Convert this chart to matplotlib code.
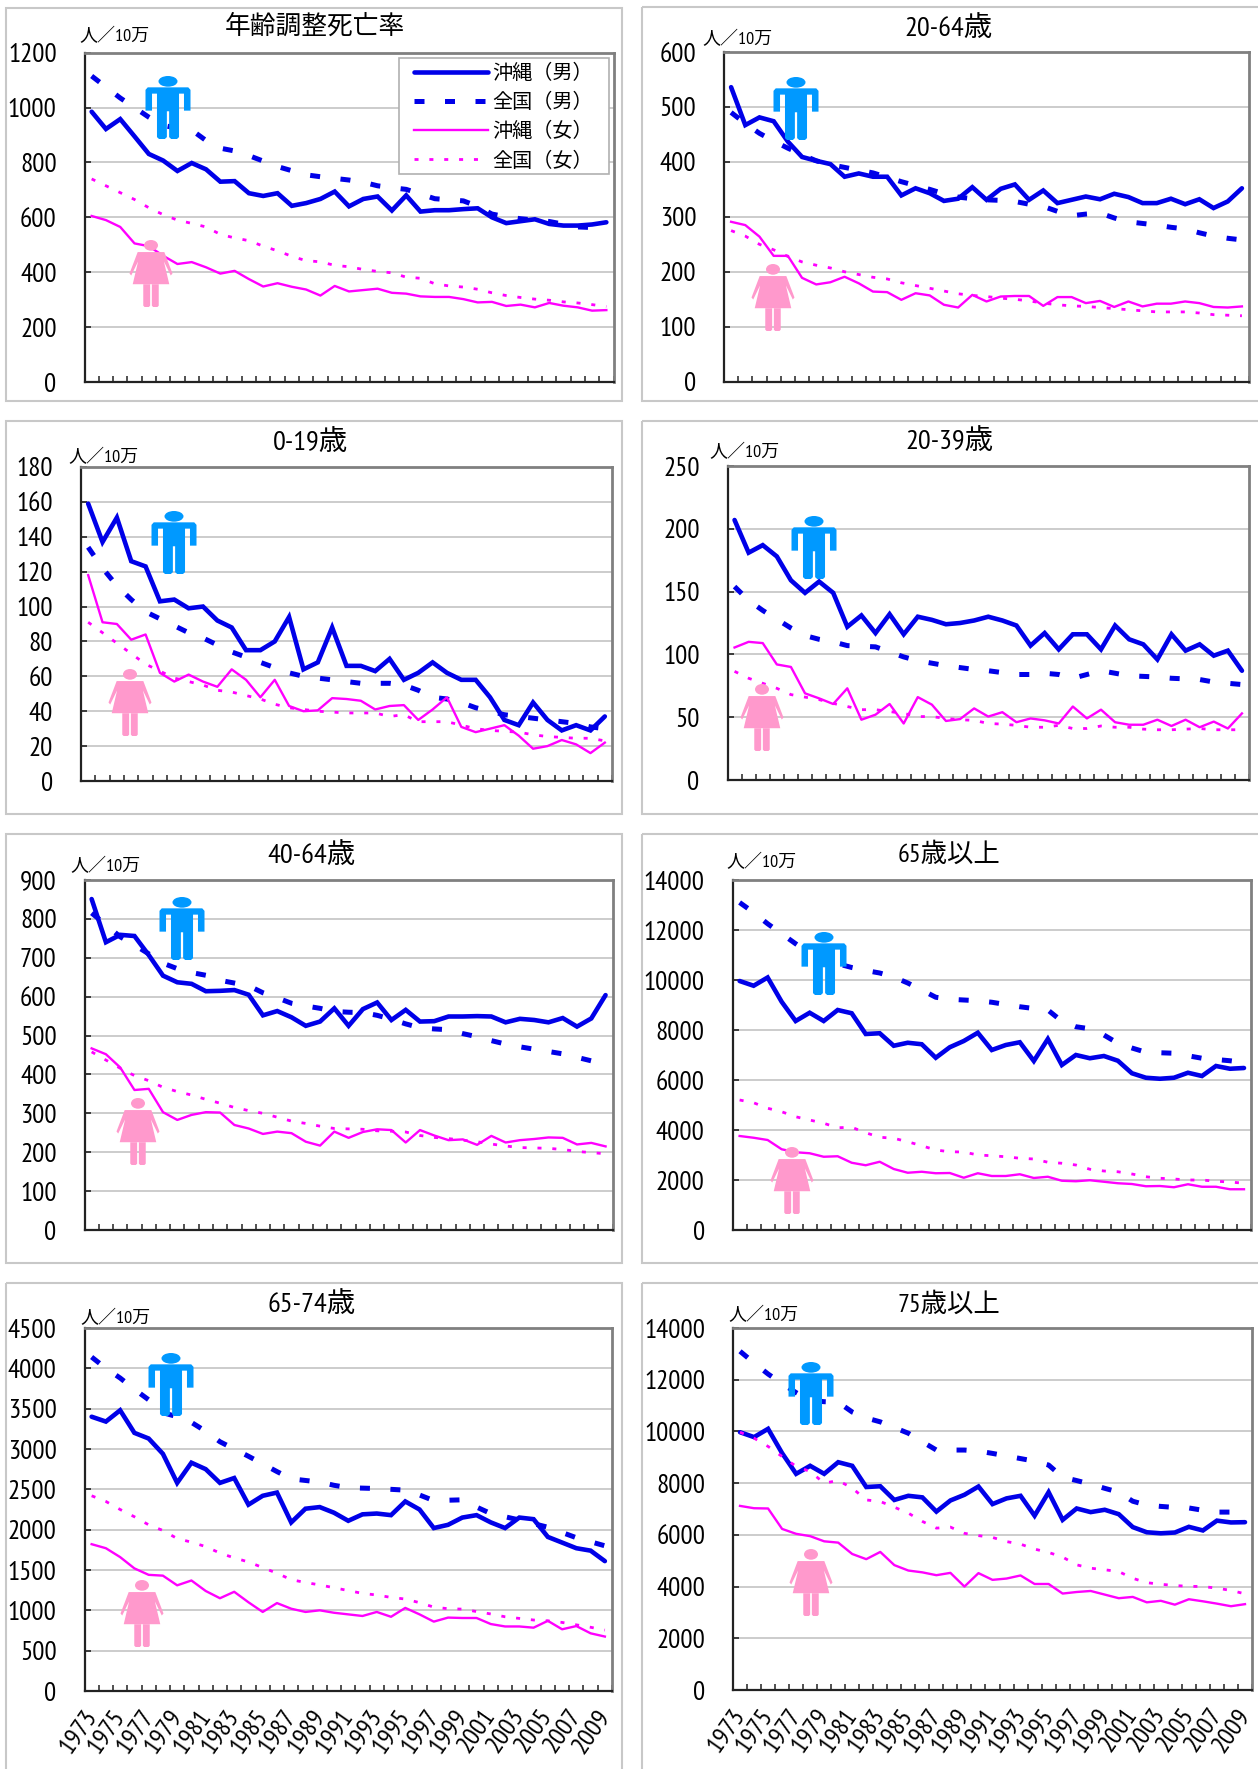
import matplotlib
matplotlib.use('Agg')
import matplotlib.pyplot as plt
from matplotlib.lines import Line2D
from matplotlib.patches import Ellipse, Polygon, Rectangle
from matplotlib import font_manager as fm

# narrow latin first, CJK for the rest
names = {f.name for f in fm.fontManager.ttflist}
fonts = [n for n in ['PT Sans Narrow', 'Roboto Condensed', 'Liberation Sans'] if n in names][:1]
fonts = fonts + ['Noto Sans CJK JP', 'DejaVu Sans']
plt.rcParams['font.family'] = fonts

W, H = 1258, 1769
years = list(range(1973, 2010))

# 年齢調整死亡率
age_oki_m = [985,922,958,895,831,807,769,798,775,730,732,688,678,688,642,652,667,694,640,667,676,625,680,621,626,626,630,633,600,579,586,593,576,570,570,574,582]
age_nat_m = [1115,1075,1035,1000,965,935,925,918,880,852,842,825,805,785,770,755,748,742,736,728,715,708,702,685,668,664,660,640,612,602,595,590,585,575,565,563,572]
age_oki_f = [605,590,565,505,495,460,430,437,418,395,405,375,348,360,347,337,315,350,330,335,340,325,322,312,310,310,302,290,292,277,282,272,288,278,272,260,262]
age_nat_f = [740,715,690,665,635,610,590,578,565,538,525,515,495,478,458,442,438,425,420,410,403,398,382,378,358,350,346,338,325,315,308,302,298,292,288,282,275]

# 20-64
a2064_oki_m = [536,467,481,474,437,409,402,396,373,379,373,373,339,352,343,329,333,354,331,351,359,331,348,325,331,337,332,342,336,325,325,333,323,332,316,328,352]
a2064_nat_m = [490,470,452,438,425,413,402,395,390,385,380,372,364,357,350,342,336,333,331,330,328,323,319,310,302,305,307,298,291,288,285,281,278,271,265,261,258]
a2064_oki_f = [291,285,264,229,229,189,177,181,191,179,164,163,149,161,157,140,135,158,146,155,156,156,138,154,154,143,147,136,146,137,142,142,146,143,136,135,137]
a2064_nat_f = [275,265,250,240,228,218,212,207,200,195,190,187,180,175,170,165,160,157,155,152,150,147,143,140,138,137,135,133,131,129,127,127,127,125,122,121,120]

# 0-19
a0019_oki_m = [159,137,151,126,123,103,104,99,100,92,88,75,75,80,94,64,68,88,66,66,63,70,58,62,68,62,58,58,48,35,32,45,35,29,32,29,37]
a0019_nat_m = [134,122,112,104,97,93,89,85,82,78,74,71,68,65,62,60,59,58,57,56,56,56,55,52,48,47,45,42,40,38,37,36,35,34,33,31,30]
a0019_oki_f = [118,91,90,81,84,62,57,61,57,54,64,58,48,58,43,40,40.5,47.5,47,46,41,43,43.5,35,41,48,31,28,30,32,26,18.5,20,23.5,21,16,22]
a0019_nat_f = [91,85,79,73,67,63,59,57,55,52,51,49,47,44,42,41,40,39.5,39,39,39,37,38,34,34,34,32,30,29,28.5,28,26.5,25.5,25,24.5,24.5,23]

# 20-39
a2039_oki_m = [207,181,187,178,159,149,158,149,122,131,117,132,116,130,127.5,124,125,127,130,127,123,107,117,104,116,116,104,123,112,108,96,116,103,108,99,103,87]
a2039_nat_m = [154,143,135,128,121,115,112,110,107,106.5,106,102,98,95,93,91,89.5,88,87,85.5,84,84,85,84,81,84,87,85,83,82.5,82,81,80.5,80,78,77,76]
a2039_oki_f = [105.5,110,109,92,90,69,65,60.5,73,48,52,60.5,45,66,60,47,48.5,57,50.5,54,46,49,47.5,45,58.5,49,56,46,44,44,48,43,48,42,46.5,41,53]
a2039_nat_f = [86.5,81,77,73,68,66,64,61,58.5,56,56,54.5,53,50.5,50.5,49,48,47.5,45,44.5,43.5,42,42,43.5,41,41,43,42,42,40.5,40,40,40.5,41,40,40,40]

# 40-64
a4064_oki_m = [851,740,759,756,707,654,637,633,614,615,617,605,552,563,547,525,536,570,525,568,585,540,566,536,537,549,549,550,549,534,543,540,534,545,523,544,604]
a4064_nat_m = [815,785,754,733,710,686,672,662,655,642,635,628,610,597,583,576,570,562,560,559,552,542,530,520,517,515,505,497,487,478,471,465,459,453,444,435,428]
a4064_oki_f = [467,452,418,360,363,303,283,296,303,302,270,261,247,253,249,227,217,253,237,252,259,257,225,257,243,231,233,219,242,225,231,234,238,237,220,224,215]
a4064_nat_f = [458,437,416,397,384,367,356,347,336,326,315,307,300,290,280,274,267,261,260,259,255,254,252,243,238,235,231,227,221,216,212,211,210,207,202,199,196]

# 65以上
a65_oki_m = [9960,9770,10100,9130,8360,8690,8360,8800,8670,7840,7870,7370,7490,7430,6890,7310,7560,7890,7200,7400,7510,6760,7640,6600,7000,6870,6960,6770,6270,6090,6050,6090,6290,6160,6560,6450,6480]
a65_nat_m = [13100,12700,12250,11850,11450,11070,10800,10650,10500,10380,10280,10120,9880,9600,9310,9230,9200,9170,9110,9020,8930,8860,8800,8350,8130,8050,7800,7470,7280,7110,7090,7070,6970,6870,6820,6770,6700]
a65_oki_f = [3760,3690,3600,3230,3110,3070,2930,2950,2690,2590,2730,2440,2290,2330,2270,2280,2090,2270,2160,2160,2230,2080,2130,1970,1950,1990,1930,1870,1840,1750,1760,1710,1830,1730,1730,1630,1630]
a65_nat_f = [5200,5090,4870,4730,4530,4400,4270,4090,4110,3890,3710,3670,3530,3370,3200,3130,3120,3000,2970,2930,2870,2840,2710,2670,2600,2430,2360,2330,2240,2130,2070,2040,2000,2000,1950,1920,1870]

# 65-74
a6574_oki_m = [3400,3340,3480,3200,3130,2940,2580,2830,2750,2580,2640,2310,2420,2460,2090,2260,2280,2210,2110,2190,2200,2180,2350,2250,2020,2060,2150,2180,2090,2020,2150,2130,1910,1840,1770,1740,1610]
a6574_nat_m = [4140,4000,3880,3740,3610,3450,3400,3330,3220,3090,3000,2910,2815,2720,2630,2610,2590,2550,2520,2515,2510,2500,2490,2430,2360,2365,2370,2280,2200,2160,2120,2075,2030,1965,1900,1850,1800]
a6574_oki_f = [1820,1770,1660,1520,1440,1430,1310,1370,1240,1150,1230,1100,980,1090,1020,980,1000,970,950,930,980,920,1030,950,860,910,905,905,830,800,800,785,870,765,805,715,675]
a6574_nat_f = [2420,2350,2250,2160,2060,1990,1890,1845,1790,1710,1650,1600,1530,1460,1380,1345,1315,1280,1245,1210,1190,1160,1140,1095,1040,1020,1015,985,955,920,900,880,870,850,820,790,755]

# 75以上
a75_oki_m = [9970,9780,10100,9160,8360,8670,8360,8810,8670,7850,7880,7350,7510,7450,6900,7330,7550,7870,7190,7410,7510,6740,7650,6580,7020,6880,6970,6800,6300,6100,6060,6090,6310,6170,6550,6480,6490]
a75_nat_m = [13100,12650,12220,11850,11500,11200,11150,11130,10750,10520,10370,10150,9930,9600,9280,9280,9280,9240,9150,9050,8950,8850,8700,8230,8100,7960,7800,7650,7300,7150,7100,7060,7040,6950,6880,6880,6750]
a75_oki_f = [7120,7030,7020,6230,6040,5950,5750,5700,5260,5060,5340,4830,4620,4550,4440,4530,4000,4520,4260,4310,4430,4100,4100,3730,3790,3830,3690,3550,3600,3390,3450,3300,3510,3430,3340,3240,3320]
a75_nat_f = [9970,9740,9420,9030,8650,8450,8000,8100,7810,7350,7290,7070,6840,6520,6260,6300,6060,5970,5900,5740,5640,5450,5320,5140,4840,4710,4650,4580,4320,4150,4090,4040,4010,4000,3940,3850,3720]

labels = ['沖縄（男）', '全国（男）', '沖縄（女）', '全国（女）']

BLUE = '#0000e8'
MAGENTA = '#ff00ff'
MALE = '#0099ff'
FEMALE = '#ff99cc'

# line styles: oki male, nat male, oki female, nat female
STYLES = [
    dict(color=BLUE, lw=3.3, solid_capstyle='round', solid_joinstyle='miter'),
    dict(color=BLUE, lw=3.6, dashes=(2.0, 4.1), dash_capstyle='butt'),
    dict(color=MAGENTA, lw=1.7),
    dict(color=MAGENTA, lw=2.0, dashes=(1.45, 3.9), dash_capstyle='butt'),
]

# title, series, ymax, step, frame(x0,y0,x1,y1), axes(x0,y0,x1,y1), title xy, unit xy, male xy, female xy
panels = [
    ('年齢調整死亡率', (age_oki_m, age_nat_m, age_oki_f, age_nat_f), 1200, 200, (6,8,622,401), (84.5,52.7,613.5,382), (315,27), (114,37), (168,76), (151,240)),
    ('20-64歳', (a2064_oki_m, a2064_nat_m, a2064_oki_f, a2064_nat_f), 600, 100, (642,7,1270,401), (724,52,1249,381.7), (948,28), (737,40), (796,77), (773,264)),
    ('0-19歳', (a0019_oki_m, a0019_nat_m, a0019_oki_f, a0019_nat_f), 180, 20, (6,421,622,814), (81,467,612,781), (311,442), (103,458), (174,511), (130,669)),
    ('20-39歳', (a2039_oki_m, a2039_nat_m, a2039_oki_f, a2039_nat_f), 250, 50, (642,421,1270,814), (727.5,466,1249,780), (949,441), (744,453), (814,516), (762,684)),
    ('40-64歳', (a4064_oki_m, a4064_nat_m, a4064_oki_f, a4064_nat_f), 900, 100, (6,834,622,1263), (84.5,880,612.7,1230), (312,855), (105,867), (182,897), (138,1098)),
    ('65歳以上', (a65_oki_m, a65_nat_m, a65_oki_f, a65_nat_f), 14000, 2000, (642,834,1270,1263), (732.6,880,1251,1230), (949,855), (761,863), (824,932), (792,1147)),
    ('65-74歳', (a6574_oki_m, a6574_nat_m, a6574_oki_f, a6574_nat_f), 4500, 500, (6,1283,622,1785), (84.5,1328,612,1691), (312,1304), (115,1319), (171,1353), (142,1580)),
    ('75歳以上', (a75_oki_m, a75_nat_m, a75_oki_f, a75_nat_f), 14000, 2000, (642,1283,1270,1785), (733,1328,1252,1690), (949,1305), (763,1316), (811,1362), (811,1549)),
]

fig = plt.figure(figsize=(W / 100, H / 100), dpi=100, facecolor='white')

# overlay in picture pixels, for frames, titles, icons and the legend
ov = fig.add_axes([0, 0, 1, 1], zorder=5)
ov.set_xlim(0, W)
ov.set_ylim(H, 0)
ov.axis('off')
ov.patch.set_alpha(0)


def male_icon(cx, top, w=45, h=63):
    half = w / 2
    pts = [(.9,.18),(1,.22),(1,.55),(.71,.55),(.71,.28),(.49,.28),(.49,.97),(.4,1),(.14,1),(.05,.97),(.05,.56)]
    pts = pts + [(-u, v) for u, v in reversed(pts)]
    ov.add_patch(Polygon([(cx + u * half, top + v * h) for u, v in pts], closed=True, fc=MALE, ec='none'))
    ov.add_patch(Ellipse((cx, top + .085 * h), 19, .17 * h, fc=MALE, ec='none'))


def female_icon(cx, top, w=43, h=67):
    half = w / 2
    dress = [(.62,.18),(1,.5),(.92,.53),(.6,.32),(.85,.66),(-.85,.66),(-.6,.32),(-.92,.53),(-1,.5),(-.62,.18)]
    ov.add_patch(Polygon([(cx + u * half, top + v * h) for u, v in dress], closed=True, fc=FEMALE, ec='none'))
    for sign in (-1, 1):
        leg = [(.04,.66),(.36,.66),(.36,.98),(.3,1),(.1,1),(.04,.98)]
        ov.add_patch(Polygon([(cx + sign * u * half, top + v * h) for u, v in leg], closed=True, fc=FEMALE, ec='none'))
    ov.add_patch(Ellipse((cx, top + .08 * h), 14, .16 * h, fc=FEMALE, ec='none'))


for idx, (title, series, ymax, step, frame, box, title_xy, unit_xy, male_xy, female_xy) in enumerate(panels):
    ov.add_patch(Rectangle((frame[0], frame[1]), frame[2] - frame[0], frame[3] - frame[1],
                           fc='none', ec='#c8c8c8', lw=1.5))
    x0, y0, x1, y1 = box
    ax = fig.add_axes([x0 / W, 1 - y1 / H, (x1 - x0) / W, (y1 - y0) / H], zorder=2)
    xs = list(range(len(years)))
    for values, style in zip(series, STYLES):
        ax.plot(xs, values, **style)

    ax.set_xlim(-.5, len(years) - .5)
    ax.set_ylim(0, ymax)
    ax.set_yticks(range(0, ymax + 1, step))
    ax.yaxis.grid(True, color='#c4c4c4', lw=1.2)
    ax.set_axisbelow(True)
    ax.tick_params(axis='y', direction='in', length=4.5, width=1.2, color='#222222', pad=20, labelsize=19.5)
    ax.set_xticks([i - .5 for i in range(len(years) + 1)])
    ax.tick_params(axis='x', which='major', direction='in', length=4.5, width=1.1, color='#222222', labelbottom=False)
    for s in ('left', 'bottom'):
        ax.spines[s].set_color('#222222')
        ax.spines[s].set_linewidth(1.6)
    for s in ('top', 'right'):
        ax.spines[s].set_color('#808080')
        ax.spines[s].set_linewidth(2)

    if idx >= 6:
        ax.set_xticks(xs[::2], [str(y) for y in years[::2]], minor=True, rotation=55,
                      ha='right', va='center', rotation_mode='anchor')
        ax.tick_params(axis='x', which='minor', length=0, pad=15, labelsize=19)

    if idx == 0:
        title_size = 18.5
    elif '-' in title:
        title_size = 20.5
    else:
        title_size = 19
    ov.text(title_xy[0], title_xy[1], title, ha='center', va='center', fontsize=title_size, color='black')
    ov.text(unit_xy[0], unit_xy[1], '人／10万', ha='center', va='center', fontsize=13, color='black')
    male_icon(male_xy[0], male_xy[1])
    female_icon(female_xy[0], female_xy[1])

# legend of the first panel
ov.add_patch(Rectangle((399, 58), 210, 116, fc='white', ec='#b0b0b0', lw=1.2))
for row, (label, style) in enumerate(zip(labels, STYLES)):
    y = 71.5 + row * 29.2
    ov.add_line(Line2D([414, 488], [y, y], **style))
    ov.text(492, y + 2, label, ha='left', va='center', fontsize=14.5, family=['Noto Sans CJK JP', 'DejaVu Sans'])

fig.savefig('out.png', dpi=100)
